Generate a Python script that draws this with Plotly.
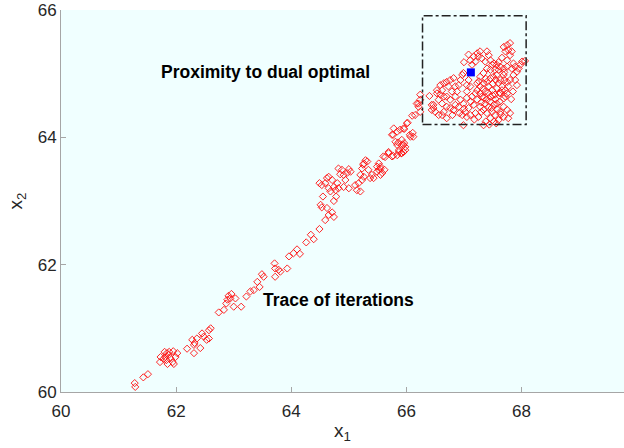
import plotly.graph_objects as go

# Trace of iterations (outside the box region)
trail_x1 = [61.28, 61.29, 61.43, 61.51,
            61.73, 61.72, 61.84, 61.88, 61.95, 62.02, 61.83, 61.85, 61.96, 61.90, 61.81, 61.78, 61.87, 61.94, 61.80, 61.99,
            62.19, 62.28, 62.31, 62.31, 62.36, 62.42, 62.32, 62.48, 62.45, 62.57, 62.60, 62.57, 62.53,
            62.74, 62.83, 62.89, 62.91, 62.94, 63.03, 63.00, 63.13, 62.87, 62.96,
            63.22, 63.29, 63.35, 63.41, 63.45, 63.49, 63.52,
            63.71, 63.72, 63.78, 63.72, 63.81, 63.93, 63.96, 64.04, 64.15, 64.10,
            64.26, 64.34, 64.39, 64.49,
            64.59, 64.65, 64.62, 64.71, 64.74, 64.51, 64.53, 64.74, 64.78, 64.55,
            64.49, 64.53, 64.59, 64.62, 64.65, 64.71, 64.74, 64.77, 64.82, 64.80,
            64.82, 64.88, 64.85, 64.91, 64.97, 65.00, 65.03, 64.94, 64.91, 65.00, 64.68, 64.65,
            65.11, 65.14, 65.20, 65.17, 65.23, 65.20, 65.26, 65.23, 65.26, 65.32, 65.29, 65.25, 65.34, 65.40, 65.43, 65.37,
            65.52, 65.55, 65.52, 65.58, 65.55, 65.49, 65.62, 65.49, 65.55,
            65.60, 65.69, 65.77, 65.84, 65.87, 65.91, 65.95, 65.98, 65.92, 65.96, 65.86, 65.81, 65.69, 65.75, 65.63, 65.92, 65.84, 65.95, 65.98, 65.87, 65.92,
            65.77, 65.78, 65.84, 65.89, 65.96, 66.06, 66.11, 66.12, 66.02, 65.95, 65.75, 66.07, 66.01,
            66.24, 66.24, 66.21, 66.24, 66.15, 66.10, 66.18, 66.21]
trail_x2 = [60.14, 60.08, 60.23, 60.28,
            60.55, 60.47, 60.61, 60.63, 60.64, 60.61, 60.50, 60.44, 60.44, 60.53, 60.55, 60.52, 60.58, 60.47, 60.63, 60.55,
            60.68, 60.82, 60.74, 60.61, 60.84, 60.69, 60.77, 60.87, 60.92, 60.97, 61.00, 60.84, 60.82,
            61.25, 61.29, 61.45, 61.51, 61.47, 61.47, 61.34, 61.34, 61.39, 61.54,
            61.50, 61.58, 61.60, 61.73, 61.65, 61.85, 61.81,
            62.02, 61.94, 61.92, 61.81, 61.89, 61.94, 62.13, 62.18, 62.17, 62.24,
            62.35, 62.47, 62.40, 62.56,
            62.70, 62.78, 62.89, 62.82, 62.75, 62.94, 62.90, 63.00, 63.07, 63.07,
            63.28, 63.25, 63.28, 63.36, 63.38, 63.33, 63.22, 63.17, 63.20, 63.28,
            63.51, 63.49, 63.42, 63.41, 63.44, 63.50, 63.46, 63.33, 63.22, 63.20, 63.15, 63.20,
            63.25, 63.17, 63.15, 63.28, 63.33, 63.41, 63.38, 63.51, 63.59, 63.62, 63.64, 63.57, 63.49, 63.41, 63.36, 63.36,
            63.59, 63.54, 63.49, 63.44, 63.41, 63.46, 63.49, 63.54, 63.51,
            63.70, 63.75, 63.71, 63.72, 63.77, 63.75, 63.77, 63.85, 63.88, 63.91, 63.92, 63.93, 63.77, 63.70, 63.69, 63.75, 63.88, 63.88, 63.80, 63.80, 63.96,
            64.04, 64.14, 64.09, 64.12, 64.13, 64.04, 64.07, 64.01, 64.23, 64.14, 64.04, 64.01, 64.22,
            64.67, 64.59, 64.53, 64.40, 64.35, 64.34, 64.53, 64.48]

# Iterations near the optimum (inside the box)
cluster_x1 = [66.40, 66.53, 66.47, 66.50, 66.44, 66.47, 66.44, 66.56, 66.59, 66.65, 66.62, 66.59, 66.65, 66.70, 66.73,
              66.76, 66.82, 66.79, 66.85, 66.70, 66.76, 66.88, 66.91, 66.85, 66.94, 66.97, 66.99,
              66.76, 66.82, 66.85, 66.91, 66.94, 66.99, 67.02, 66.97, 67.05, 67.11, 67.08, 66.99,
              66.56, 66.65, 66.70, 66.62, 66.53, 67.05, 67.11, 67.05, 67.08,
              67.11, 67.17, 67.23, 67.28, 67.25, 67.20, 67.14, 67.31, 67.40, 67.43, 67.37, 67.46, 67.49, 67.52,
              67.57, 67.63, 67.60, 67.54, 67.46, 67.40, 67.34, 67.28, 67.23,
              67.28, 67.34, 67.40, 67.46, 67.51, 67.57, 67.43, 67.49, 67.37, 67.31, 67.40, 67.46, 67.54, 67.57,
              67.60, 67.63, 67.69, 67.66, 67.63, 67.69, 67.75, 67.72, 67.77, 67.75, 67.80,
              67.23, 67.17, 67.28, 67.34, 67.43, 67.52, 67.57, 67.49, 67.40, 67.54, 67.63, 67.69, 67.75, 67.80,
              67.77, 67.69, 67.60, 67.52, 67.34, 67.25, 67.20, 67.28, 67.20, 67.23, 67.14, 67.37,
              67.69, 67.75, 67.80, 67.77, 67.83, 67.72, 67.80, 67.75, 67.86, 67.89, 67.83, 67.92, 67.86, 67.95,
              67.98, 68.01, 68.06, 67.89, 67.75, 67.69,
              67.30, 67.35, 67.45, 67.50, 67.55, 67.62, 67.66, 67.58, 67.48, 67.42, 67.33, 67.26, 67.38, 67.50,
              67.55, 67.70, 67.72, 67.64, 67.46, 67.38, 67.30, 67.12, 67.05, 67.00, 66.92, 66.80, 66.70, 66.62,
              67.18, 67.56, 67.44, 67.62, 67.82, 67.85, 67.92, 67.70, 67.60, 67.66, 67.08, 67.00]
cluster_x2 = [64.65, 64.74, 64.46, 64.40, 64.51, 64.51, 64.43, 64.59, 64.67, 64.64, 64.74, 64.82, 64.85, 64.87, 64.80,
              64.90, 64.93, 64.72, 64.64, 64.64, 64.59, 64.72, 64.82, 64.80, 64.90, 64.98, 65.01,
              64.46, 64.43, 64.51, 64.48, 64.59, 64.53, 64.40, 64.35, 64.32, 64.35, 64.46, 64.19,
              64.35, 64.40, 64.48, 64.53, 64.69, 64.72, 64.80, 64.82, 64.90,
              65.21, 65.27, 65.32, 65.35, 65.27, 65.19, 65.14, 65.24, 65.35, 65.29, 65.19, 65.21, 65.14, 65.16,
              65.14, 65.11, 65.06, 65.06, 65.06, 65.08, 65.01, 64.95, 64.85,
              64.80, 64.85, 64.87, 64.93, 64.95, 64.98, 64.80, 64.74, 64.72, 64.64, 64.59, 64.64, 64.67, 64.77,
              64.85, 64.90, 64.98, 64.80, 64.69, 64.61, 64.69, 64.74, 64.80, 64.87, 64.90,
              64.59, 64.51, 64.48, 64.43, 64.48, 64.51, 64.53, 64.40, 64.38, 64.35, 64.40, 64.48, 64.43, 64.38,
              64.30, 64.32, 64.27, 64.25, 64.19, 64.32, 64.38, 64.69, 64.69, 64.74, 64.64, 64.53,
              65.42, 65.45, 65.48, 65.37, 65.35, 65.35, 65.29, 65.21, 65.16, 65.11, 65.08, 65.03, 64.98, 65.08,
              65.14, 65.19, 65.20, 64.90, 65.11, 65.08,
              64.55, 64.62, 64.56, 64.66, 64.60, 64.56, 64.74, 64.44, 64.46, 64.70, 64.76, 64.88, 64.92, 64.84,
              64.90, 64.90, 64.64, 64.36, 64.30, 64.25, 64.40, 64.56, 64.62, 64.45, 64.38, 64.35, 64.30, 64.35,
              64.28, 64.22, 64.20, 64.70, 64.60, 64.72, 64.82, 65.02, 65.18, 65.25, 65.30, 65.18]

# Dual optimal point
opt_x1 = [67.12]
opt_x2 = [65.02]

# Proximity box
box_x = [66.28, 68.08]
box_y = [64.20, 65.91]

x_ticks = [60, 62, 64, 66, 68]
y_ticks = [60, 62, 64, 66]

FONT = "Liberation Sans, Arial, sans-serif"
marker_style = dict(symbol="diamond-open", size=5.5, color="#ff1010", line=dict(width=0.9, color="#ff1010"))

fig = go.Figure()
fig.add_trace(go.Scatter(x=trail_x1, y=trail_x2, mode="markers", marker=marker_style, showlegend=False))
fig.add_trace(go.Scatter(x=cluster_x1, y=cluster_x2, mode="markers", marker=marker_style, showlegend=False))
fig.add_trace(go.Scatter(x=opt_x1, y=opt_x2, mode="markers",
                         marker=dict(symbol="square", size=8, color="#0000ff", line=dict(width=0)),
                         showlegend=False))

fig.add_shape(type="rect", x0=box_x[0], x1=box_x[1], y0=box_y[0], y1=box_y[1],
              line=dict(color="#222222", width=1.5, dash="dashdot"))

ann_font = dict(family=FONT, size=17.5, color="#000000")
fig.add_annotation(x=63.55, y=65.03, text="<b>Proximity to dual optimal</b>", showarrow=False, font=ann_font)
fig.add_annotation(x=64.82, y=61.45, text="<b>Trace of iterations</b>", showarrow=False, font=ann_font)

axis_common = dict(showgrid=False, zeroline=False, showline=True, linecolor="#a6a6a6", linewidth=1,
                   ticks="inside", ticklen=5, tickcolor="#a6a6a6", mirror=False, automargin=False,
                   ticklabeloverflow="allow",
                   tickfont=dict(family=FONT, size=17, color="#262626"))

fig.update_layout(
    width=624, height=448,
    margin=dict(l=60.5, r=0, t=10, b=56, autoexpand=False),
    paper_bgcolor="white", plot_bgcolor="#f0ffff",
    xaxis=dict(range=[60, 69.78], tickvals=x_ticks, ticktext=[str(v) for v in x_ticks],
               ticklabelstandoff=4,
               title=dict(text="x<sub>1</sub>", standoff=3,
                          font=dict(family=FONT, size=19, color="#262626")),
               **axis_common),
    yaxis=dict(range=[60, 66], tickvals=y_ticks, ticktext=[str(v) for v in y_ticks],
               title=dict(text="x<sub>2</sub>", standoff=10,
                          font=dict(family=FONT, size=19, color="#262626")),
               **axis_common),
)

# remove the default page margin so the 624x448 figure fills the window exactly
fig.write_html("out.html", config={"displayModeBar": False},
               post_script="document.body.style.margin='0';document.body.style.overflow='hidden';")
